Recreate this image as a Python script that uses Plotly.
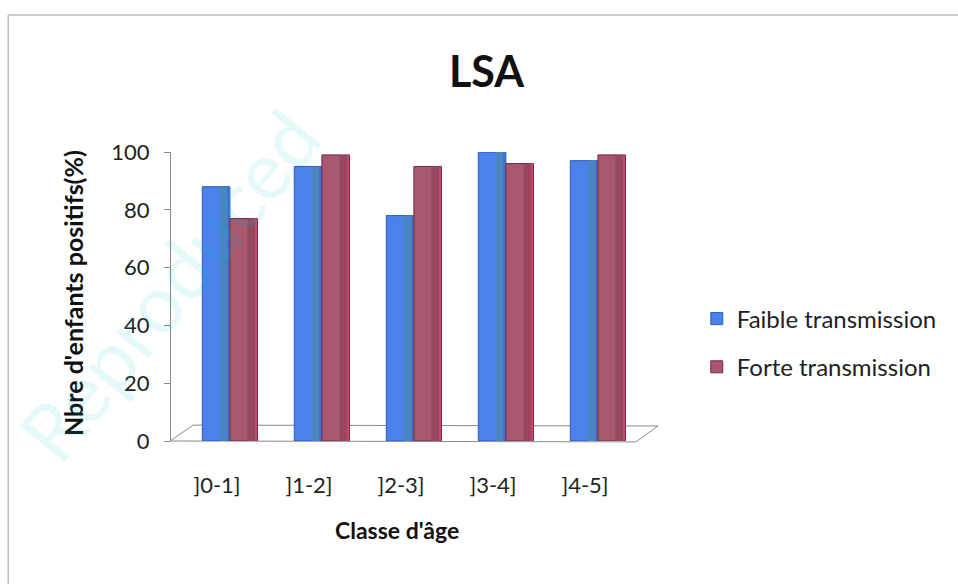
import plotly.graph_objects as go

# Age classes and share of positive children (%) for the LSA test
classes = ["]0-1]", "]1-2]", "]2-3]", "]3-4]", "]4-5]"]
faible = [88, 95, 78, 100, 97]
forte = [77, 99, 95, 96, 99]
y_ticks = [0, 20, 40, 60, 80, 100]

FONT = "Lato, Calibri, 'Open Sans', sans-serif"
x = list(range(len(classes)))

fig = go.Figure()

def cylinder(values, name, offset, base, shade, edge, glow, show):
    # body of the column
    fig.add_trace(go.Bar(
        x=x, y=values, name=name, offset=offset, width=0.30,
        marker=dict(color=base, line=dict(color=edge, width=1)),
        legendgroup=name, showlegend=show,
    ))
    # shaded right side to give a rounded look
    fig.add_trace(go.Bar(
        x=x, y=values, offset=offset + 0.19, width=0.09,
        marker=dict(color=shade, line=dict(width=0)),
        legendgroup=name, showlegend=False, hoverinfo="skip",
    ))
    # thin bright rim on the far right
    fig.add_trace(go.Bar(
        x=x, y=values, offset=offset + 0.275, width=0.02,
        marker=dict(color=glow, line=dict(width=0)),
        legendgroup=name, showlegend=False, hoverinfo="skip",
    ))

cylinder(faible, "Faible transmission", -0.16, "#4c80ea", "#4a86bd", "#2b5ab8", "#3f73d8", True)
cylinder(forte, "Forte transmission", 0.14, "#a8576f", "#96485f", "#6e2c44", "#d2446c", True)

# floor of the plot, drawn as a thin parallelogram
floor = "M -0.002 0 L 1.011 -0.003 L 1.059 0.052 L 0.048 0.055 Z"

fig.update_layout(
    width=958, height=584,
    margin=dict(l=171, r=327, t=152, b=143),
    paper_bgcolor="white", plot_bgcolor="white",
    barmode="overlay",
    font=dict(family=FONT, color="#222222"),
    showlegend=True,
    legend=dict(
        x=1.143, y=0.50, xanchor="left", yanchor="top",
        font=dict(size=24, family=FONT, color="#222222"),
        traceorder="grouped", tracegroupgap=14,
        bgcolor="rgba(0,0,0,0)",
    ),
    xaxis=dict(
        range=[-0.5, 4.5], tickmode="array", tickvals=x, ticktext=classes,
        showline=False, showgrid=False, zeroline=False, ticks="",
        ticklabelstandoff=29,
        tickfont=dict(size=22, family=FONT, color="#222222"),
    ),
    yaxis=dict(
        range=[0, 100], tickmode="array", tickvals=y_ticks,
        showline=True, linecolor="#8a8a8a", linewidth=1,
        ticks="outside", ticklen=6, tickcolor="#8a8a8a",
        showgrid=False, zeroline=False,
        ticklabelstandoff=10,
        tickfont=dict(size=22, family=FONT, color="#222222"),
    ),
    shapes=[
        dict(type="path", path=floor, xref="paper", yref="paper",
             line=dict(color="#8a8a8a", width=1), layer="below"),
        dict(type="rect", xref="paper", yref="paper",
             x0=-0.354, x1=2.5, y0=-2.0, y1=1.474,
             line=dict(color="#9a9a9a", width=1), layer="below"),
    ],
    annotations=[
        dict(text="<b>LSA</b>", xref="paper", yref="paper",
             x=(487 - 171) / 460, y=(441 - 70) / 289,
             xanchor="center", yanchor="middle", showarrow=False,
             font=dict(size=43, family=FONT, color="#111111")),
        dict(text="<b>Classe d'âge</b>", xref="paper", yref="paper",
             x=(397 - 171) / 460, y=(441 - 530) / 289,
             xanchor="center", yanchor="middle", showarrow=False,
             font=dict(size=23, family=FONT, color="#111111")),
        dict(text="<b>Nbre d'enfants positifs(%)</b>", xref="paper", yref="paper",
             x=(73 - 171) / 460, y=(441 - 293) / 289, textangle=-90,
             xanchor="center", yanchor="middle", showarrow=False,
             font=dict(size=25, family=FONT, color="#111111")),
        dict(text="Reproduced", xref="paper", yref="paper",
             x=(168 - 171) / 460, y=(441 - 285) / 289, textangle=-51,
             xanchor="center", yanchor="middle", showarrow=False,
             font=dict(size=80, family=FONT, color="rgba(0,200,215,0.10)")),
    ],
)

fig.write_html("out.html")
